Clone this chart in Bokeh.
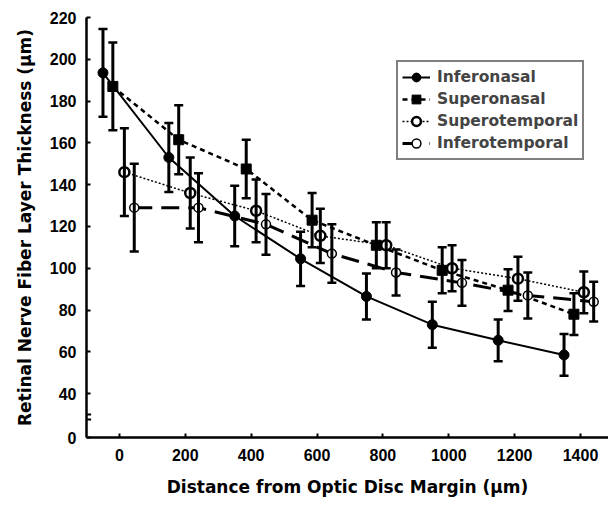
from bokeh.plotting import figure
from bokeh.models import (Range1d, FixedTicker, Whisker, ColumnDataSource, Legend,
                          LegendItem, TeeHead, BoxAnnotation)
from bokeh.embed import file_html
from bokeh.resources import INLINE

# ---------------- data ----------------
names = ["Inferonasal", "Superonasal", "Superotemporal", "Inferotemporal"]

in_x = [-50, 150, 350, 550, 750, 950, 1150, 1350]
in_y = [193.5, 153, 125, 104.5, 86.5, 73, 65.5, 58.5]
in_err = [21, 16.5, 14.5, 13, 11, 11, 10, 10]

sn_x = [-20, 180, 385, 585, 780, 980, 1180, 1380]
sn_y = [187, 161.5, 147.5, 123, 111, 99, 89.5, 78]
sn_err = [21, 16.5, 14, 13, 11, 11, 10, 10]

st_x = [15, 215, 415, 610, 810, 1010, 1210, 1410]
st_y = [146, 136, 127.5, 115.5, 111, 100, 95, 88.5]
st_err = [21, 17, 15, 13, 11, 11, 10.5, 10]

it_x = [45, 240, 445, 645, 840, 1040, 1240, 1440]
it_y = [129, 129, 121, 107, 98, 93, 87, 84]
it_err = [21, 16.5, 14.5, 14, 11, 11, 11, 9.5]

x_ticks = [0, 200, 400, 600, 800, 1000, 1200, 1400]
y_ticks = [40, 60, 80, 100, 120, 140, 160, 180, 200, 220]
y_zero_label = "0"
y_break_pos = 19  # where the "0" label sits on the broken axis

# ---------------- styles ----------------
styles = [
    dict(dash="solid", lw=2, marker="circle", fill="black", mlw=1, size=10),
    dict(dash="5 4", lw=2.5, marker="square", fill="black", mlw=1, size=10),
    dict(dash="2 2", lw=1.5, marker="circle", fill="white", mlw=2.5, size=10),
    dict(dash="18 9", lw=3, marker="circle", fill="white", mlw=1.5, size=9),
]

TICK_FONT = "Liberation Sans"
TITLE_FONT = "DejaVu Sans"

p = figure(width=608, height=504,
           x_range=Range1d(-100, 1485), y_range=Range1d(y_break_pos, 220),
           output_backend="svg", toolbar_location=None,
           min_border_left=86, min_border_top=17, min_border_bottom=67,
           min_border_right=0)
p.grid.visible = False
p.outline_line_color = None
p.background_fill_color = "white"

series = [(in_x, in_y, in_err), (sn_x, sn_y, sn_err), (st_x, st_y, st_err), (it_x, it_y, it_err)]
items = []
for name, (xs, ys, es), st in zip(names, series, styles):
    src = ColumnDataSource(dict(x=xs, y=ys,
                                upper=[a + b for a, b in zip(ys, es)],
                                lower=[a - b for a, b in zip(ys, es)]))
    ln = p.line("x", "y", source=src, line_color="black", line_width=st["lw"],
                line_dash=st["dash"])
    w = Whisker(source=src, base="x", upper="upper", lower="lower",
                line_color="black", line_width=3, level="glyph",
                upper_head=TeeHead(size=9, line_width=2.5, line_color="black"),
                lower_head=TeeHead(size=9, line_width=2.5, line_color="black"))
    p.add_layout(w)
    sc = p.scatter("x", "y", source=src, marker=st["marker"], size=st["size"],
                   fill_color=st["fill"], line_color="black", line_width=st["mlw"])
    items.append(LegendItem(label=name, renderers=[ln, sc]))

legend = Legend(items=items, location=(310, 277), border_line_color="black",
                border_line_width=2, background_fill_color="white",
                background_fill_alpha=1, padding=4, spacing=0, margin=0,
                glyph_width=28, glyph_height=22, label_height=22,
                label_standoff=7, label_text_font=TITLE_FONT,
                label_text_font_style="bold", label_text_font_size="15.5px")
p.add_layout(legend, "center")

# axis-break marks on the y axis
for yb in (27.6, 30.0):
    p.add_layout(BoxAnnotation(bottom=yb - 0.5, top=yb + 0.5, left=-116, right=-86,
                               fill_color="black", fill_alpha=1, line_color=None,
                               level="overlay"))

p.xaxis.ticker = FixedTicker(ticks=x_ticks)
p.yaxis.ticker = FixedTicker(ticks=[y_break_pos] + y_ticks)
p.yaxis.major_label_overrides = {y_break_pos: y_zero_label}

for ax in (p.xaxis, p.yaxis):
    ax.axis_line_color = "black"
    ax.axis_line_width = 2.5
    ax.major_tick_line_color = "black"
    ax.major_tick_line_width = 2
    ax.major_tick_in = 4
    ax.major_tick_out = 0
    ax.minor_tick_line_color = None
    ax.major_label_text_font = TICK_FONT
    ax.major_label_text_font_style = "bold"
    ax.major_label_text_font_size = "16px"
    ax.major_label_text_color = "black"
    ax.major_label_text_line_height = 1.0
    ax.axis_label_text_font = TITLE_FONT
    ax.axis_label_text_font_style = "bold"
    ax.axis_label_text_font_size = "17px"
    ax.axis_label_text_color = "black"
    ax.axis_label_text_line_height = 1.0

p.xaxis.axis_label = "Distance from Optic Disc Margin (µm)"
p.yaxis.axis_label = "Retinal Nerve Fiber Layer Thickness (µm)"
p.xaxis.major_label_standoff = 11
p.xaxis.axis_label_standoff = 13
p.yaxis.major_label_standoff = 10
p.yaxis.axis_label_standoff = 12

open("out.html", "w").write(file_html(p, INLINE))
